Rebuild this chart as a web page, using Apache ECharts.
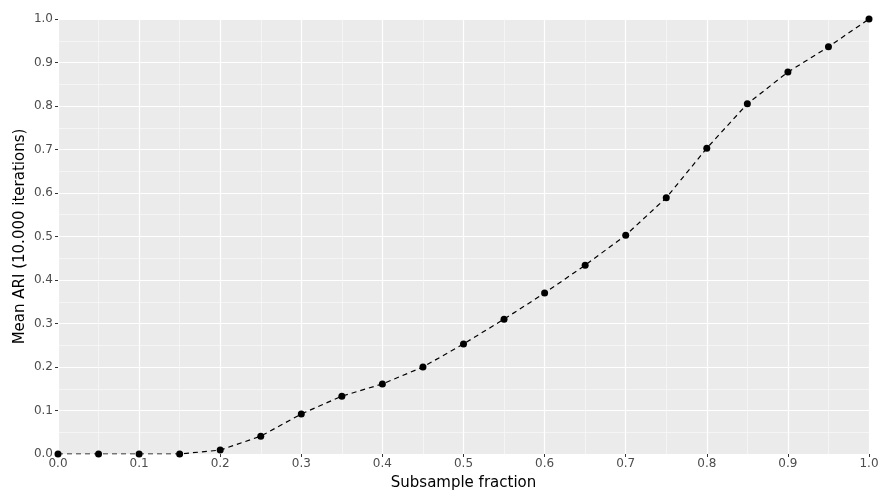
<!DOCTYPE html>
<html>
<head>
<meta charset="utf-8">
<script src="https://cdn.jsdelivr.net/npm/echarts@6/dist/echarts.min.js"></script>
<style>
  html, body { margin: 0; padding: 0; background: #fff; }
  #chart { width: 878px; height: 490px; }
</style>
</head>
<body>
<div id="chart"></div>
<script>
// subsample fraction vs mean ARI
const fractions = [0, 0.05, 0.1, 0.15, 0.2, 0.25, 0.3, 0.35, 0.4, 0.45, 0.5,
  0.55, 0.6, 0.65, 0.7, 0.75, 0.8, 0.85, 0.9, 0.95, 1.0];
const meanARI = [0, 0, 0, 0, 0.009, 0.041, 0.092, 0.133, 0.161, 0.2, 0.253,
  0.31, 0.37, 0.434, 0.503, 0.589, 0.703, 0.805, 0.878, 0.936, 1.0];

const chart = echarts.init(document.getElementById('chart'));

const axisCommon = {
  type: 'value',
  min: 0,
  max: 1,
  interval: 0.1,
  axisLine: { show: false },
  axisTick: { show: true, length: 3, lineStyle: { color: '#333', width: 1 } },
  axisLabel: {
    color: '#4D4D4D',
    fontSize: 12,
    fontFamily: 'DejaVu Sans',
    formatter: v => v.toFixed(1)
  },
  splitLine: { show: true, lineStyle: { color: '#fff', width: 1.2 } },
  minorTick: { show: false, splitNumber: 2 },
  minorSplitLine: { show: true, lineStyle: { color: '#F7F7F7', width: 0.8 } },
  nameLocation: 'middle',
  nameTextStyle: { color: '#000', fontSize: 15, fontFamily: 'DejaVu Sans' }
};

chart.setOption({
  animation: false,
  grid: {
    left: 58, right: 9, top: 19, bottom: 36,
    outerBoundsMode: 'none',
    containLabel: false,
    show: true, backgroundColor: '#EBEBEB', borderWidth: 0
  },
  xAxis: Object.assign({}, axisCommon, {
    name: 'Subsample fraction',
    nameGap: 22,
    axisLabel: Object.assign({}, axisCommon.axisLabel, { margin: 4 })
  }),
  yAxis: Object.assign({}, axisCommon, {
    name: 'Mean ARI (10.000 iterations)',
    nameGap: 30,
    nameMoveOverlap: false,
    axisLabel: Object.assign({}, axisCommon.axisLabel, { margin: 5 })
  }),
  series: [{
    type: 'line',
    data: fractions.map((f, i) => [f, meanARI[i]]),
    symbol: 'circle',
    symbolSize: 7,
    showSymbol: true,
    clip: true,
    itemStyle: { color: '#000' },
    lineStyle: { color: '#000', width: 1.2, type: [5, 4] }
  }]
});
</script>
</body>
</html>
